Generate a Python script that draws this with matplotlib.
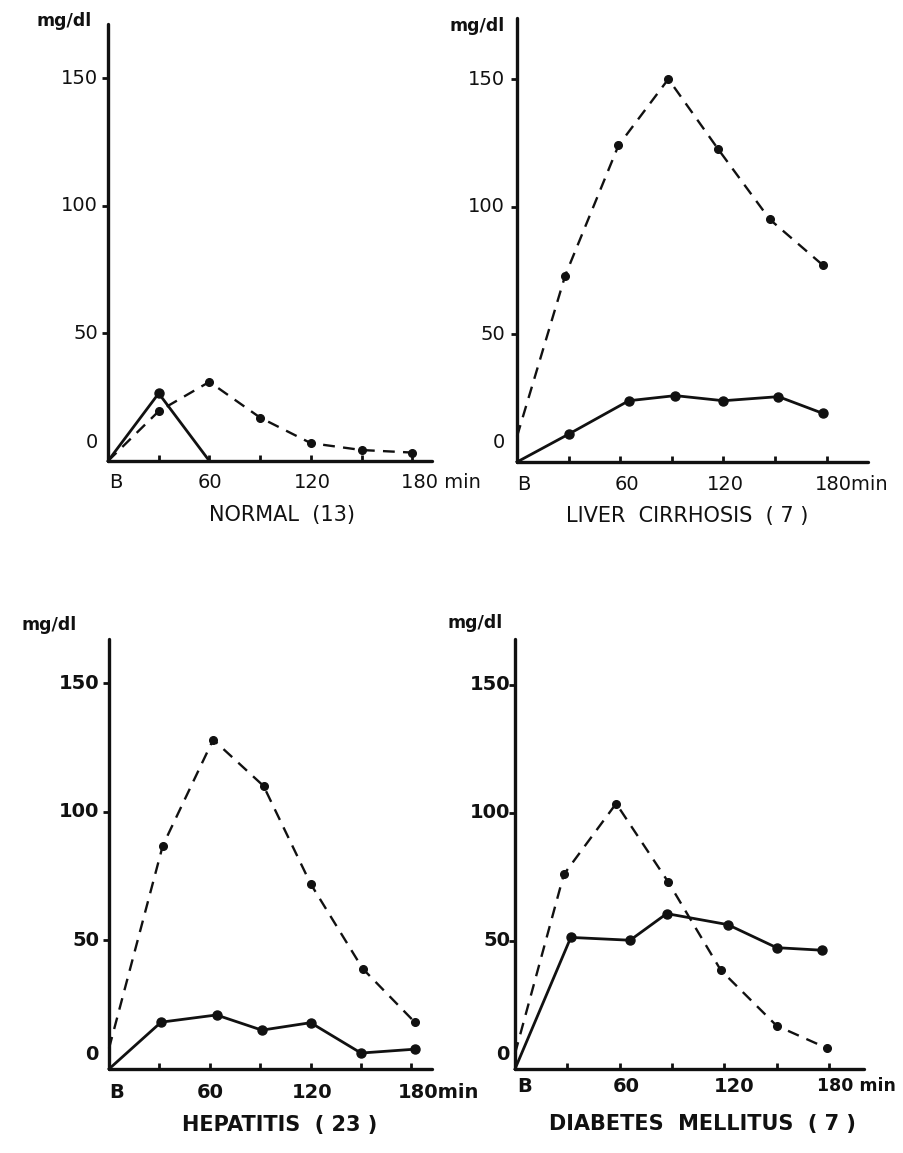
"""Increment curves (mg/dl) after load: four disease groups, solid vs dashed."""

import matplotlib
matplotlib.use("Agg")
import matplotlib.pyplot as plt

plt.rcParams["font.family"] = ["DejaVu Sans"]
INK = "#111111"

# ─────────────────────────────────────────────
# DATA
# ─────────────────────────────────────────────
NORMAL_SOLID_T = [0, 30, 60]
NORMAL_SOLID_V = [0, 26.5, 0]
NORMAL_DASH_T = [0, 30, 60, 90, 120, 150, 180]
NORMAL_DASH_V = [0, 19.5, 31, 17, 7, 4.3, 3.3]

CIRR_SOLID_T = [0, 30, 65, 92, 120, 152, 178]
CIRR_SOLID_V = [0, 10.9, 24, 26, 24, 25.6, 19]
CIRR_DASH_T = [0, 28, 59, 88, 117, 147, 178]
CIRR_DASH_V = [10, 73, 124, 150, 122.5, 95, 77]

HEP_SOLID_T = [0, 31, 64, 91, 120, 150, 182]
HEP_SOLID_V = [0, 18.2, 21, 15.1, 18, 6.2, 7.7]
HEP_DASH_T = [0, 32, 62, 92, 120, 151, 182]
HEP_DASH_V = [8, 86.8, 128, 110, 72, 39, 18.2]

DM_SOLID_T = [0, 32, 66, 87, 122, 150, 176]
DM_SOLID_V = [0, 51.4, 50.3, 60.7, 56.4, 47.4, 46.4]
DM_DASH_T = [0, 28, 58, 88, 118, 150, 179]
DM_DASH_V = [6, 76, 103.7, 72.9, 38.6, 16.9, 8.1]

TITLES = ["NORMAL  (13)", "LIVER  CIRRHOSIS  ( 7 )",
          "HEPATITIS  ( 23 )", "DIABETES  MELLITUS  ( 7 )"]
X_TICKS = [30, 60, 90, 120, 150, 180]
X_LABEL_POS = [0, 60, 120, 180]
Y_LABEL_POS = [0, 50, 100, 150]
Y_LABELS = ["0", "50", "100", "150"]
UNIT = "mg/dl"

SERIES = [
    (NORMAL_SOLID_T, NORMAL_SOLID_V, NORMAL_DASH_T, NORMAL_DASH_V),
    (CIRR_SOLID_T, CIRR_SOLID_V, CIRR_DASH_T, CIRR_DASH_V),
    (HEP_SOLID_T, HEP_SOLID_V, HEP_DASH_T, HEP_DASH_V),
    (DM_SOLID_T, DM_SOLID_V, DM_DASH_T, DM_DASH_V),
]
X_LABELS = [
    ["B", "60", "120", "180 min"],
    ["B", "60", "120", "180min"],
    ["B", "60", "120", "180min"],
    ["B", "60", "120", "180 min"],
]

# ─────────────────────────────────────────────
# LAYOUT (pixels on a 904 x 1153 canvas)
# ─────────────────────────────────────────────
FW, FH = 904, 1153
# left, axis-y (from top), px/min, px/unit, xmax, ymax
LAYOUT = [
    (108, 461, 1.69, 2.553, 192, 171),
    (517, 462, 1.72, 2.553, 204, 174),
    (109, 1069, 1.68, 2.573, 192, 167),
    (515, 1069, 1.744, 2.56, 200, 168),
]
TITLE_XY = [(282, 515), (687, 516), (280, 1125), (702, 1124)]
UNIT_XY = [(92, 21), (505, 26), (77, 625), (503, 623)]
YPAD = [10, 12, 10, 5]
ZERO_LIFT = [18, 19, 14, 15]
XDROP = [22, 22, 23, 17]
XLAB_DX = [
    [8, 1, 2, -11],
    [7, 7, 2, -12],
    [8, 0, 2, -14],
    [10, 7, 10, -12],
]
WEIGHTS = ["normal", "normal", "bold", "bold"]
LAST_SIZE = [14, 14, 14, 12.5]

fig = plt.figure(figsize=(FW / 100, FH / 100), dpi=100)
fig.patch.set_facecolor("white")

for k, (st, sv, dt, dv) in enumerate(SERIES):
    left, base, ppm, ppu, xmax, ymax = LAYOUT[k]
    w = WEIGHTS[k]
    ax = fig.add_axes([left / FW, (FH - base) / FH,
                       xmax * ppm / FW, ymax * ppu / FH])
    ax.set_xlim(0, xmax)
    ax.set_ylim(0, ymax)
    ax.patch.set_alpha(0)
    for s in ("top", "right"):
        ax.spines[s].set_visible(False)
    for s in ("left", "bottom"):
        ax.spines[s].set_linewidth(2.4)
        ax.spines[s].set_color(INK)
        ax.spines[s].set_capstyle("round")

    ax.set_xticks(X_TICKS)
    ax.set_xticklabels([])
    ax.set_yticks(Y_LABEL_POS[1:])
    ax.set_yticklabels([])
    ax.tick_params(axis="x", direction="in", length=4, width=2, color=INK)
    ax.tick_params(axis="y", direction="out", length=4, width=2, color=INK)

    # solid curve
    mk_s = [i for i, (t, v) in enumerate(zip(st, sv)) if t > 0 and v > 0]
    ax.plot(st, sv, color=INK, lw=2.0, marker="o", ms=6.5, markevery=mk_s,
            solid_joinstyle="round", clip_on=False, zorder=3)
    # dashed curve
    mk_d = [i for i, t in enumerate(dt) if t > 0]
    ax.plot(dt, dv, color=INK, lw=1.7, ls=(0, (5, 3.5)), marker="o", ms=5.5,
            markevery=mk_d, dash_capstyle="butt", clip_on=False, zorder=3)

    # y labels
    for v, lab in zip(Y_LABEL_POS, Y_LABELS):
        dy = ZERO_LIFT[k] if v == 0 else 0
        ax.annotate(lab, (0, v), xytext=(-YPAD[k], dy), textcoords="offset pixels",
                    ha="right", va="center", fontsize=14, color=INK,
                    fontweight=w, annotation_clip=False)

    # x labels
    for j, (t, lab) in enumerate(zip(X_LABEL_POS, X_LABELS[k])):
        last = j == len(X_LABEL_POS) - 1
        ax.annotate(lab, (t, 0), xytext=(XLAB_DX[k][j], -XDROP[k]),
                    textcoords="offset pixels", ha="left" if last else "center",
                    va="center", fontsize=LAST_SIZE[k] if last else 14,
                    color=INK, fontweight=w, annotation_clip=False)

    # unit + panel title
    ux, uy = UNIT_XY[k]
    fig.text(ux / FW, 1 - uy / FH, UNIT, ha="right", va="center",
             fontsize=12.5, fontweight="bold", color=INK)
    tx, ty = TITLE_XY[k]
    fig.text(tx / FW, 1 - ty / FH, TITLES[k], ha="center", va="center",
             fontsize=15, fontweight=w, color=INK)

fig.savefig("out.png", dpi=100, facecolor="white")
